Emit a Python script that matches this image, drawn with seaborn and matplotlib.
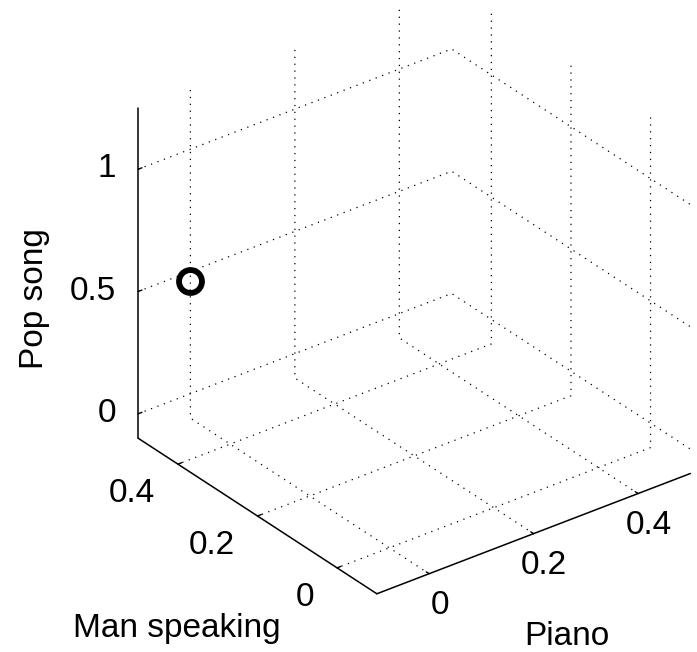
import numpy as np
import matplotlib
matplotlib.use("Agg")
import matplotlib.pyplot as plt
import seaborn as sns
from mpl_toolkits.mplot3d import proj3d

# ---- data ----
piano = [0.0]
man_speaking = [0.5]
pop_song = [0.46]

piano_lim = (-0.1, 0.5)
man_lim = (-0.1, 0.5)
pop_lim = (-0.1, 1.25)
piano_ticks = [0, 0.2, 0.4]
man_ticks = [0, 0.2, 0.4]
pop_ticks = [0, 0.5, 1]
piano_ticklabels = ["0", "0.2", "0.4"]
man_ticklabels = ["0", "0.2", "0.4"]
pop_ticklabels = ["0", "0.5", "1"]

sns.set_theme(style="white")
plt.rcParams['font.family'] = ['Liberation Sans', 'DejaVu Sans']
plt.rcParams.update({
    'grid.color': 'black',
    'grid.linestyle': (0, (1.0, 4.5)),
    'grid.linewidth': 0.9,
    'axes.edgecolor': 'black',
    'text.color': 'black',
    'axes.labelcolor': 'black',
})

W, H, DPI = 6.97, 6.52, 100
Wpx, Hpx = W * DPI, H * DPI
fig = plt.figure(figsize=(W, H), dpi=DPI)
side = 0.9
ax = fig.add_axes([0.05, 0.05, side, side * W / H], projection='3d', proj_type='ortho')
ax.view_init(elev=30, azim=-127.5)
ax.set_xlim(*piano_lim)
ax.set_ylim(*man_lim)
ax.set_zlim(*pop_lim)
ax.set_box_aspect((397, 394, 383))

ax.plot(piano, man_speaking, pop_song, linestyle='none', marker='o',
        markersize=16.5, markerfacecolor='none', markeredgecolor='black',
        markeredgewidth=4.2, zorder=10)

ax.set_xticks(piano_ticks)
ax.set_yticks(man_ticks)
ax.set_zticks(pop_ticks)

for a in (ax.xaxis, ax.yaxis, ax.zaxis):
    a.set_pane_color((1, 1, 1, 0))
    a.line.set_color('black')
    a.line.set_linewidth(1.1)
    a._axinfo['tick']['inward_factor'] = 0.0
    a._axinfo['tick']['outward_factor'] = 0.15
    a._axinfo['tick']['linewidth'] = {True: 1.0, False: 0.5}
    a._axinfo['tick']['color'] = 'black'
    a.set_tick_params(colors='black', label1On=False, label2On=False)
    a.label.set_visible(False)
    a.offsetText.set_visible(False)


def to_px(xs, ys, zs):
    M = ax.get_proj()
    px, py, _ = proj3d.proj_transform(np.asarray(xs, float), np.asarray(ys, float),
                                      np.asarray(zs, float), M)
    return ax.transData.transform(np.column_stack([px, py]))


# place the 3D box so its front and left floor corners land where the reference has them
targets = np.array([[378.0, Hpx - 592.0], [137.0, Hpx - 440.0]])
for _ in range(2):
    fig.canvas.draw()
    d = to_px([piano_lim[0], piano_lim[0]], [man_lim[0], man_lim[1]], [pop_lim[0], pop_lim[0]])
    bb = ax.get_position()
    c = np.array([(bb.x0 + bb.width / 2) * Wpx, (bb.y0 + bb.height / 2) * Hpx])
    s = np.linalg.norm(targets[1] - targets[0]) / np.linalg.norm(d[1] - d[0])
    newc = np.mean(targets - s * (d - c), axis=0)
    wpx = bb.width * Wpx * s
    ax.set_position([(newc[0] - wpx / 2) / Wpx, (newc[1] - wpx / 2) / Hpx,
                     wpx / Wpx, wpx / Hpx])
fig.canvas.draw()

fs = 24


def put_labels(xs, ys, zs, labels, dx, dy, ha):
    pts = to_px(xs, ys, zs)
    for (px, py), lab in zip(pts, labels):
        fig.text((px + dx) / Wpx, (py + dy) / Hpx, lab, fontsize=fs, ha=ha, va='baseline')


# tick labels (MATLAB-style, horizontal), anchored at the projected tick positions
n = len(pop_ticks)
put_labels([piano_lim[0]] * n, [man_lim[1]] * n, pop_ticks, pop_ticklabels, -22, -8, 'right')
n = len(man_ticks)
put_labels([piano_lim[0]] * n, man_ticks, [pop_lim[0]] * n, man_ticklabels, -23, -38, 'right')
n = len(piano_ticks)
put_labels(piano_ticks, [man_lim[0]] * n, [pop_lim[0]] * n, piano_ticklabels, 10.5, -40, 'center')

# axis labels
fig.text(176.5 / Wpx, (Hpx - 637) / Hpx, "Man speaking", fontsize=fs, ha='center', va='baseline')
fig.text(566.5 / Wpx, (Hpx - 645) / Hpx, "Piano", fontsize=fs, ha='center', va='baseline')
fig.text(43 / Wpx, (Hpx - 299) / Hpx, "Pop song", fontsize=fs, rotation=90,
         rotation_mode='anchor', ha='center', va='baseline')

fig.savefig("out.png", dpi=DPI)
